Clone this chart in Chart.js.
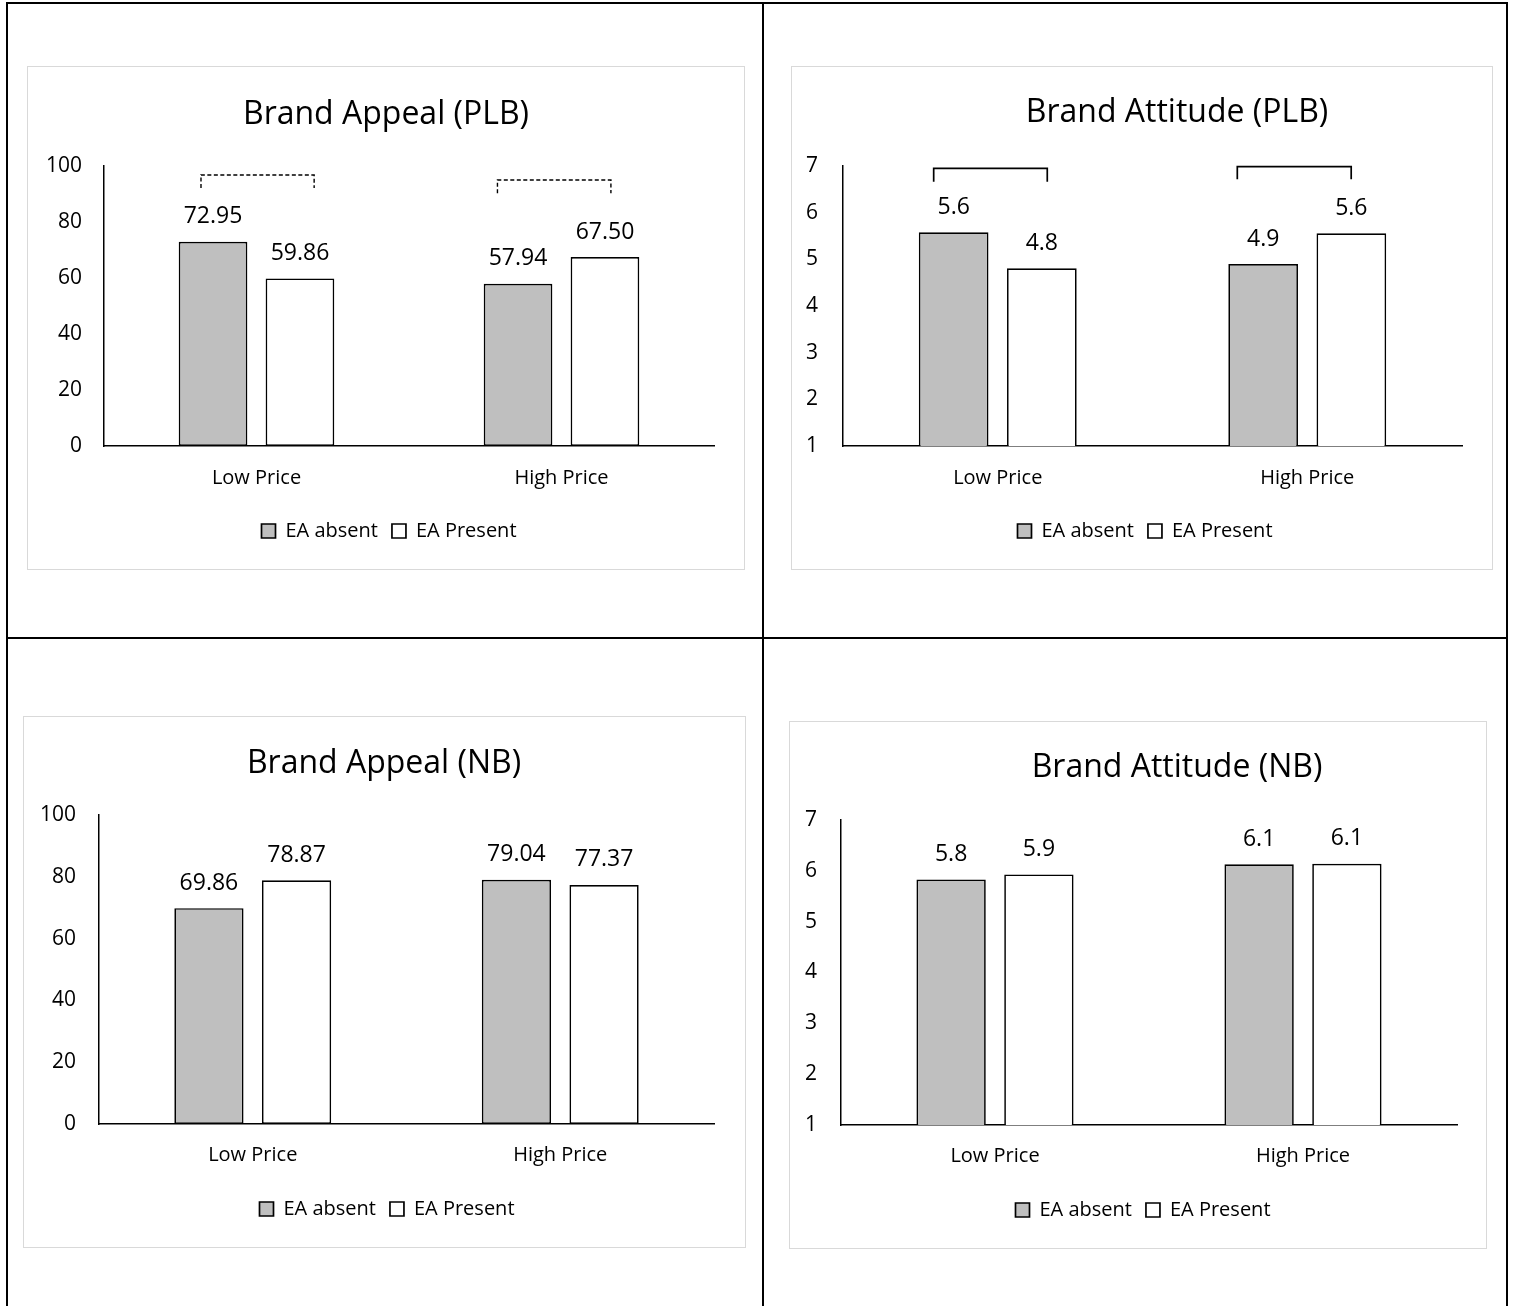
<!DOCTYPE html>
<html lang="en">
<head>
    <meta charset="UTF-8">
    <title>Brand Appeal and Brand Attitude</title>
    <style>
        body {
            margin: 0;
            background: #fff;
            width: 1514px;
            height: 1306px;
            position: relative;
            overflow: hidden;
        }

        .rule {
            position: absolute;
            background: #000;
        }

        .frame {
            position: absolute;
            border: 1px solid #d9d9d9;
        }

        .frame canvas {
            display: block;
        }
    </style>
</head>
<body>
    <!-- table lines -->
    <div class="rule" style="left:6px; top:2px; width:1502px; height:2px"></div>
    <div class="rule" style="left:6px; top:2px; width:2px; height:1304px"></div>
    <div class="rule" style="left:1506px; top:2px; width:2px; height:1304px"></div>
    <div class="rule" style="left:762px; top:2px; width:2px; height:1304px"></div>
    <div class="rule" style="left:6px; top:637px; width:1502px; height:2px"></div>

    <div class="frame" style="left:27px; top:66px"><canvas id="appeal-plb"></canvas></div>
    <div class="frame" style="left:791px; top:66px"><canvas id="attitude-plb"></canvas></div>
    <div class="frame" style="left:23px; top:716px"><canvas id="appeal-nb"></canvas></div>
    <div class="frame" style="left:789px; top:721px"><canvas id="attitude-nb"></canvas></div>

    <script src="https://cdn.jsdelivr.net/npm/chart.js"></script>
    <script>
        const categories = ['Low Price', 'High Price'];
        const seriesNames = ['EA absent', 'EA Present'];

        const appealPlbAbsent = [72.95, 57.94];
        const appealPlbPresent = [59.86, 67.50];
        const attitudePlbAbsent = [5.58, 4.90];
        const attitudePlbPresent = [4.81, 5.56];
        const appealNbAbsent = [69.86, 79.04];
        const appealNbPresent = [78.87, 77.37];
        const attitudeNbAbsent = [5.83, 6.13];
        const attitudeNbPresent = [5.93, 6.14];

        const appealTicks = { min: 0, max: 100, step: 20 };
        const attitudeTicks = { min: 1, max: 7, step: 1 };

        // brackets over each pair: category index, x span in category units, y in data units
        const appealPlbBrackets = [
            { cat: 0, from: -0.182, to: 0.189, top: 96.8, end: 92.1 },
            { cat: 1, from: -0.21, to: 0.162, top: 95.0, end: 90.3 }
        ];
        const attitudePlbBrackets = [
            { cat: 0, from: -0.207, to: 0.160, top: 6.95, end: 6.66 },
            { cat: 1, from: -0.226, to: 0.142, top: 6.985, end: 6.715 }
        ];

        Chart.defaults.font.family = "'Open Sans', sans-serif";
        Chart.defaults.color = '#000';

        const valueLabels = (decimals) => ({
            id: 'valueLabels',
            afterDatasetsDraw(chart) {
                const ctx = chart.ctx;
                ctx.save();
                ctx.font = "23px 'Open Sans', sans-serif";
                ctx.fillStyle = '#000';
                ctx.textAlign = 'center';
                ctx.textBaseline = 'middle';
                chart.data.datasets.forEach((ds, i) => {
                    chart.getDatasetMeta(i).data.forEach((bar, j) => {
                        ctx.fillText(ds.data[j].toFixed(decimals), bar.x, bar.y - 25);
                    });
                });
                ctx.restore();
            }
        });

        const brackets = (items, dashed) => ({
            id: 'brackets',
            afterDatasetsDraw(chart) {
                const ctx = chart.ctx;
                const xs = chart.scales.x, ys = chart.scales.y;
                ctx.save();
                ctx.strokeStyle = '#000';
                ctx.lineWidth = dashed ? 1.4 : 1.7;
                ctx.setLineDash(dashed ? [4, 2.5] : []);
                items.forEach(b => {
                    const x0 = xs.getPixelForValue(b.cat + b.from);
                    const x1 = xs.getPixelForValue(b.cat + b.to);
                    const yt = ys.getPixelForValue(b.top);
                    const ye = ys.getPixelForValue(b.end);
                    ctx.beginPath();
                    ctx.moveTo(x0, ye);
                    ctx.lineTo(x0, yt);
                    ctx.lineTo(x1, yt);
                    ctx.lineTo(x1, ye);
                    ctx.stroke();
                });
                ctx.restore();
            }
        });

        // title and legend are centred on their own in the Excel frames
        const centreBlocks = (titleX, legendX) => ({
            id: 'centreBlocks',
            afterLayout(chart) {
                [[chart.titleBlock, titleX], [chart.legend, legendX]].forEach(([box, cx]) => {
                    if (!box) return;
                    const dx = cx - (box.left + box.right) / 2;
                    box.left += dx;
                    box.right += dx;
                });
            }
        });

        const makeChart = (id, title, absent, present, ticks, decimals, g, extra) => {
            const canvas = document.getElementById(id);
            canvas.width = g.w;
            canvas.height = g.h;
            canvas.parentNode.style.width = g.w + 'px';
            canvas.parentNode.style.height = g.h + 'px';

            const ox = g.left + 1, oy = g.top + 1;
            const right = g.w - (g.plotR - ox);
            const yWidth = g.plotL - ox;
            const plotTop = g.plotT - oy;
            const plotBottom = g.plotB - oy;
            const titleLine = 32 * 1.2;
            const titleTop = g.titleY + 3 - oy - titleLine / 2;
            const titleBottom = plotTop - titleTop - titleLine;
            const legendPad = 14;
            const legendTop = g.legendY - oy - legendPad - 10;
            const legendH = 20 + legendPad + 10;
            const bottomPad = g.h - legendTop - legendH;
            const xHeight = legendTop - plotBottom;
            const xPad = g.tickY - g.plotB - 12;

            return new Chart(canvas, {
                type: 'bar',
                data: {
                    labels: categories,
                    datasets: [{
                        label: seriesNames[0],
                        data: absent,
                        backgroundColor: '#bfbfbf',
                        borderColor: '#000',
                        borderWidth: 1.7,
                        borderSkipped: false
                    }, {
                        label: seriesNames[1],
                        data: present,
                        backgroundColor: '#fff',
                        borderColor: '#000',
                        borderWidth: 1.7,
                        borderSkipped: false
                    }]
                },
                options: {
                    responsive: false,
                    animation: false,
                    layout: { padding: { left: 0, right: right, top: 0, bottom: bottomPad } },
                    datasets: { bar: { barPercentage: 0.79, categoryPercentage: 0.57 } },
                    plugins: {
                        title: {
                            display: true,
                            text: title,
                            color: '#000',
                            font: { size: 32, weight: 'normal', lineHeight: 1.2 },
                            padding: { top: titleTop, bottom: titleBottom }
                        },
                        legend: {
                            position: 'bottom',
                            labels: { boxWidth: 14, boxHeight: 14, padding: legendPad, color: '#000', font: { size: 20 } }
                        },
                        tooltip: { enabled: false }
                    },
                    scales: {
                        x: {
                            grid: { display: false, drawTicks: false },
                            border: { display: true, color: '#000', width: 1.5 },
                            ticks: { padding: xPad, color: '#000', font: { size: 20, lineHeight: 1.2 } },
                            afterFit: s => { s.height = xHeight; }
                        },
                        y: {
                            min: ticks.min,
                            max: ticks.max,
                            grid: { display: false, drawTicks: false },
                            border: { display: true, color: '#000', width: 1.5 },
                            ticks: { stepSize: ticks.step, padding: g.yPad, color: '#000', font: { size: 21 } },
                            afterFit: s => { s.width = yWidth; }
                        }
                    }
                },
                plugins: [valueLabels(decimals), centreBlocks(g.titleX - ox, g.legendX - ox)].concat(extra)
            });
        };

        makeChart('appeal-plb', 'Brand Appeal (PLB)', appealPlbAbsent, appealPlbPresent, appealTicks, 2,
            { left: 27, top: 66, w: 716, h: 502, plotL: 104, plotR: 714, plotT: 166, plotB: 446, titleY: 112, tickY: 478, legendY: 531, yPad: 22, titleX: 386, legendX: 389 },
            [brackets(appealPlbBrackets, true)]);

        makeChart('attitude-plb', 'Brand Attitude (PLB)', attitudePlbAbsent, attitudePlbPresent, attitudeTicks, 1,
            { left: 791, top: 66, w: 700, h: 502, plotL: 843, plotR: 1462, plotT: 166, plotB: 446, titleY: 110, tickY: 478, legendY: 531, yPad: 25, titleX: 1177, legendX: 1145 },
            [brackets(attitudePlbBrackets, false)]);

        makeChart('appeal-nb', 'Brand Appeal (NB)', appealNbAbsent, appealNbPresent, appealTicks, 2,
            { left: 23, top: 716, w: 721, h: 530, plotL: 99, plotR: 714, plotT: 815, plotB: 1124, titleY: 761, tickY: 1155, legendY: 1209, yPad: 23, titleX: 384, legendX: 387 },
            []);

        makeChart('attitude-nb', 'Brand Attitude (NB)', attitudeNbAbsent, attitudeNbPresent, attitudeTicks, 1,
            { left: 789, top: 721, w: 696, h: 526, plotL: 841, plotR: 1457, plotT: 820, plotB: 1125, titleY: 765, tickY: 1156, legendY: 1210, yPad: 24, titleX: 1177, legendX: 1143 },
            []);
    </script>
</body>
</html>
